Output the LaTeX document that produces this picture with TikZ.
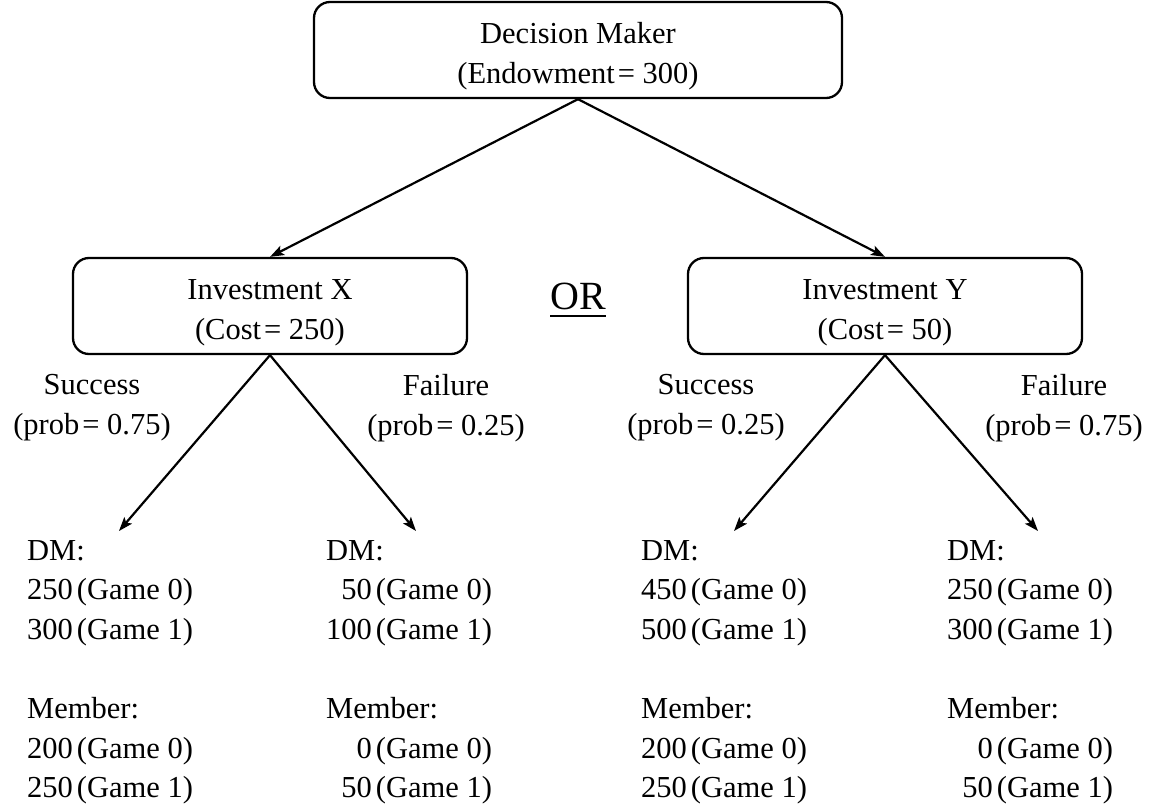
\documentclass[tikz,border=0pt]{standalone}
\usepackage{fontspec}
\setmainfont{Liberation Serif}
\usetikzlibrary{arrows.meta}
\newcommand{\tsp}{\kern4pt}
\newcommand{\eqs}{\kern3pt=\ }
\begin{document}
\begin{tikzpicture}[x=1pt,y=-1pt,
  every node/.style={font=\fontsize{30.5}{40}\selectfont, inner sep=0pt},
  box/.style={draw, line width=2.3pt, rounded corners=16pt, minimum height=96pt, align=center},
  lbl/.style={align=center},
  leaf/.style={anchor=base west, font=\fontsize{30.5}{39.6}\selectfont},
  conn/.style={line width=2.2pt, -{Stealth[length=14pt,width=10pt,inset=3pt]}}
]
\useasboundingbox (0,0) rectangle (1156,803);

\node[box, minimum width=528pt] (dm) at (578,50) {\rule{0pt}{33pt}Decision Maker\\(Endowment\eqs300)};
\node[box, minimum width=394pt] (ix) at (270,306) {\rule{0pt}{33pt}Investment X\\(Cost\eqs250)};
\node[box, minimum width=394pt] (iy) at (885,306) {\rule{0pt}{33pt}Investment Y\\(Cost\eqs50)};

\node[anchor=base, font=\fontsize{40}{48}\selectfont] (or) at (578,309) {OR};
\draw[line width=2pt] ([yshift=-7pt]or.base west) -- ([yshift=-7pt]or.base east);

\node[lbl] (sx) at (92,408) {Success\\(prob\eqs0.75)};
\node[lbl] (fx) at (446,408) {Failure\\(prob\eqs0.25)};
\node[lbl] (sy) at (706,408) {Success\\(prob\eqs0.25)};
\node[lbl] (fy) at (1064,408) {Failure\\(prob\eqs0.75)};

\coordinate (ta) at (119,531);
\coordinate (tb) at (416,531);
\coordinate (tc) at (734,531);
\coordinate (td) at (1038,531);

\draw[conn] (dm.south) -- (ix.north);
\draw[conn] (dm.south) -- (iy.north);
\draw[conn] (ix.south) -- (ta);
\draw[conn] (ix.south) -- (tb);
\draw[conn] (iy.south) -- (tc);
\draw[conn] (iy.south) -- (td);

\node[leaf] (la) at (27,560) {\begin{tabular}[t]{@{}l@{}}DM:\\250\tsp(Game 0)\\300\tsp(Game 1)\\ \\Member:\\200\tsp(Game 0)\\250\tsp(Game 1)\end{tabular}};
\node[leaf] (lb) at (326,560) {\begin{tabular}[t]{@{}r@{}}\multicolumn{1}{@{}l@{}}{DM:}\\50\tsp(Game 0)\\100\tsp(Game 1)\\ \\\multicolumn{1}{@{}l@{}}{Member:}\\0\tsp(Game 0)\\50\tsp(Game 1)\end{tabular}};
\node[leaf] (lc) at (641,560) {\begin{tabular}[t]{@{}l@{}}DM:\\450\tsp(Game 0)\\500\tsp(Game 1)\\ \\Member:\\200\tsp(Game 0)\\250\tsp(Game 1)\end{tabular}};
\node[leaf] (ld) at (947,560) {\begin{tabular}[t]{@{}r@{}}\multicolumn{1}{@{}l@{}}{DM:}\\250\tsp(Game 0)\\300\tsp(Game 1)\\ \\\multicolumn{1}{@{}l@{}}{Member:}\\0\tsp(Game 0)\\50\tsp(Game 1)\end{tabular}};
\end{tikzpicture}
\end{document}
